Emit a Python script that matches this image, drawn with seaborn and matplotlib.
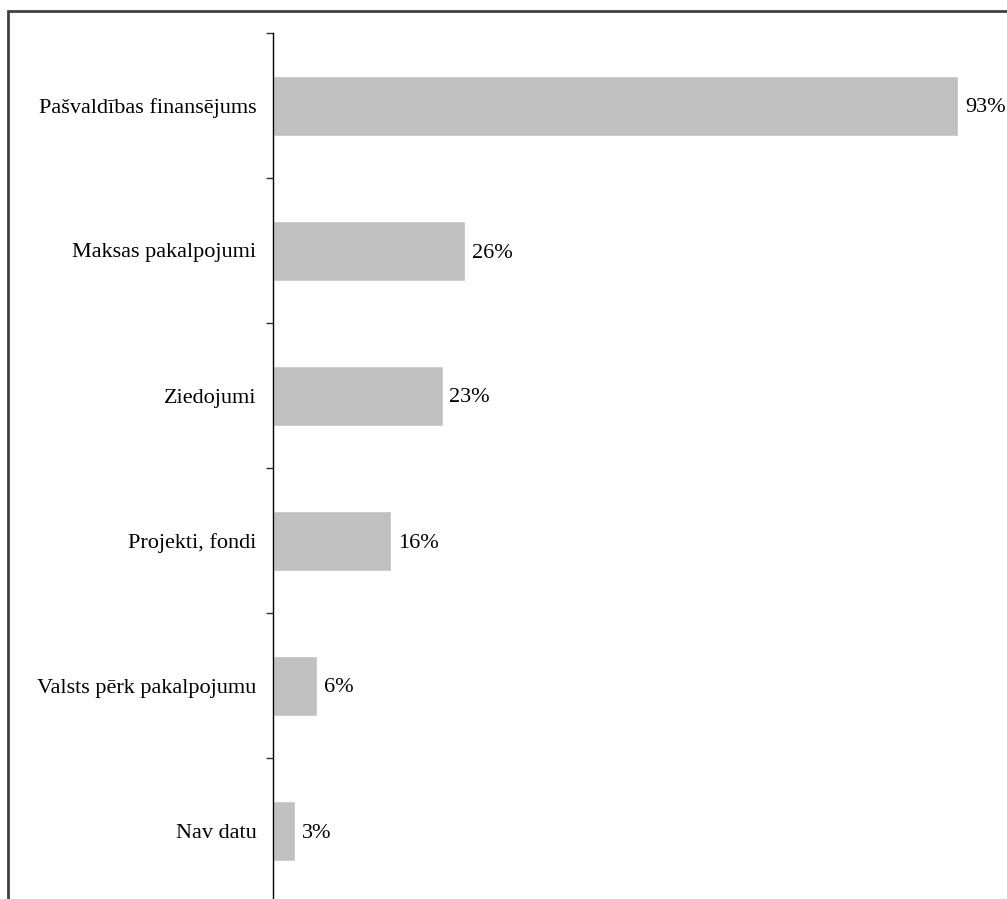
import matplotlib
matplotlib.use("Agg")
import matplotlib.pyplot as plt
import matplotlib.patches as mpatches
import seaborn as sns
import pandas as pd
import numpy as np

categories = [
    "Pašvaldības finansējums",
    "Maksas pakalpojumi",
    "Ziedojumi",
    "Projekti, fondi",
    "Valsts pērk pakalpojumu",
    "Nav datu",
]
values = [93, 26, 23, 16, 6, 3]
value_labels = ["93%", "26%", "23%", "16%", "6%", "3%"]

sns.set_theme(style="white")
plt.rcParams["font.family"] = ["Liberation Serif", "DejaVu Serif"]
plt.rcParams["text.color"] = "black"

W, H = 1007, 899
fig = plt.figure(figsize=(W / 100, H / 100), dpi=100)
fig.patch.set_facecolor("white")

# axes geometry in pixels
x0, x1 = 273, 1006
y_top, row_h = 33, 145
y_bot = y_top + row_h * len(categories)
ax = fig.add_axes([x0 / W, (H - y_bot) / H, (x1 - x0) / W, (y_bot - y_top) / H])

df = pd.DataFrame({"cat": categories, "val": values})
sns.barplot(data=df, y="cat", x="val", orient="h", color="#C0C0C0",
            width=60 / 145, ax=ax, saturation=1)

ax.set_xlim(0, (x1 - x0) / 7.37)
ax.set_ylim(len(categories) - 0.5, -0.5)
ax.set_xlabel("")
ax.set_ylabel("")
ax.set_xticks([])

for s in ["top", "right", "bottom"]:
    ax.spines[s].set_visible(False)
ax.spines["left"].set_color("black")
ax.spines["left"].set_linewidth(1.0)

ax.set_yticks(range(len(categories)))
ax.set_yticklabels(categories, fontsize=16, color="black")
ax.tick_params(axis="y", which="major", length=0, pad=12, labelcolor="black")
ax.set_yticks(np.arange(-0.5, len(categories), 1), minor=True)
ax.tick_params(axis="y", which="minor", length=5, width=1.0, color="#333333", left=True)

texts = ax.bar_label(ax.containers[0], labels=value_labels, padding=5,
                     fontsize=16, color="black")
for t in texts:
    t.set_verticalalignment("center_baseline")

# outer frame (open to the right and bottom edges)
frame = mpatches.Rectangle((7.5 / W, -0.1), 1.2, (H - 11) / H + 0.1,
                           transform=fig.transFigure, fill=False,
                           edgecolor="#404040", linewidth=2, clip_on=False)
fig.patches.append(frame)

fig.savefig("out.png", dpi=100, facecolor="white")
